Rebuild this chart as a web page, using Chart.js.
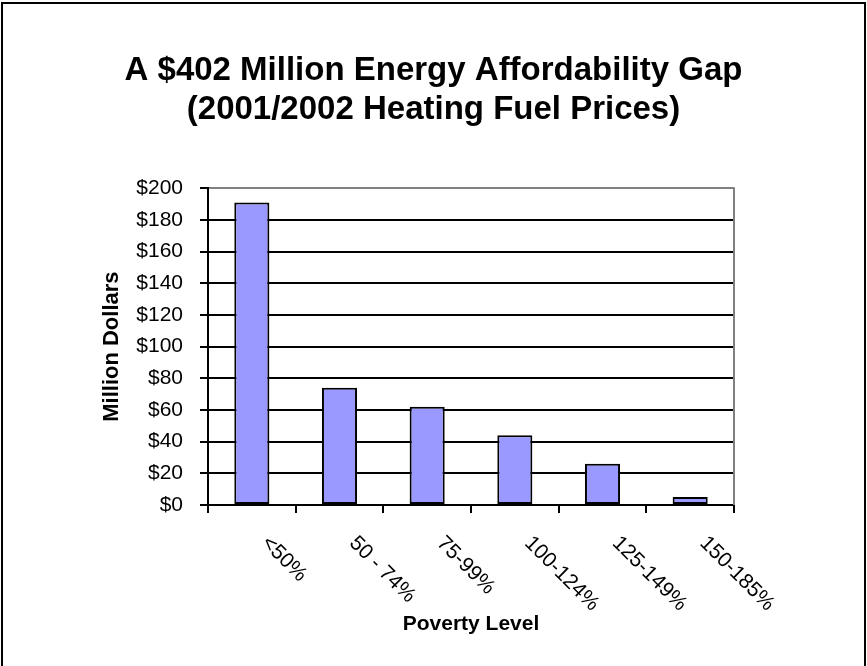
<!DOCTYPE html>
<html>
<head>
<meta charset="utf-8">
<title>Energy Affordability Gap</title>
<script src="https://cdn.jsdelivr.net/npm/chart.js@4/dist/chart.umd.min.js"></script>
<style>
    html, body { margin: 0; padding: 0; background: #fff; }
    #wrap { width: 867px; height: 666px; }
</style>
</head>
<body>
<div id="wrap"><canvas id="gap-chart" width="867" height="666"></canvas></div>
<script>
// values (million dollars)
const povertyLevels = ['<50%', '50 - 74%', '75-99%', '100-124%', '125-149%', '150-185%'];
const gapMillions = [191, 74, 62, 44, 26, 5];
const yTickValues = [0, 20, 40, 60, 80, 100, 120, 140, 160, 180, 200];
const titleLines = ['A $402 Million Energy Affordability Gap', '(2001/2002 Heating Fuel Prices)'];

const FONT = '"Liberation Sans", Arial, sans-serif';

(function() {
    'use strict';

    // outer frame around the whole chart
    const framePlugin = {
        id: 'frame',
        beforeDraw: function(chart) {
            const ctx = chart.ctx;
            ctx.save();
            ctx.fillStyle = '#fff';
            ctx.fillRect(0, 0, chart.width, chart.height);
            ctx.strokeStyle = '#000';
            ctx.lineWidth = 2;
            ctx.strokeRect(2, 3, 863, 700);
            ctx.restore();
        },
        afterDraw: function(chart) {
            // grey plot-area border on the right
            const area = chart.chartArea;
            const ctx = chart.ctx;
            ctx.save();
            ctx.strokeStyle = '#808080';
            ctx.lineWidth = 2;
            ctx.beginPath();
            ctx.moveTo(area.right, area.top - 1);
            ctx.lineTo(area.right, area.bottom);
            ctx.stroke();
            ctx.restore();
        }
    };

    // category labels slanted down to the right, like the original
    const slantLabelsPlugin = {
        id: 'slantLabels',
        afterDraw: function(chart) {
            const xScale = chart.scales.x;
            const ctx = chart.ctx;
            ctx.save();
            ctx.font = '21px ' + FONT;
            ctx.fillStyle = '#000';
            ctx.textAlign = 'left';
            ctx.textBaseline = 'middle';
            povertyLevels.forEach(function(label, i) {
                const x = xScale.getPixelForTick(i);
                ctx.save();
                ctx.translate(x + 13, xScale.top + 35);
                ctx.rotate(Math.PI / 4);
                ctx.fillText(label, 0, 0);
                ctx.restore();
            });
            ctx.restore();
        }
    };

    const context = document.getElementById('gap-chart').getContext('2d');
    const chart = new Chart(context, {
        type: 'bar',
        data: {
            labels: povertyLevels,
            datasets: [{
                label: 'Million Dollars',
                data: gapMillions,
                backgroundColor: '#9999FF',
                borderColor: '#000',
                borderWidth: 2,
                borderSkipped: false,
                barPercentage: 0.4,
                categoryPercentage: 1.0
            }]
        },
        options: {
            responsive: false,
            animation: false,
            layout: {
                padding: 0
            },
            plugins: {
                legend: { display: false },
                tooltip: { enabled: false },
                title: {
                    display: true,
                    text: titleLines,
                    color: '#000',
                    font: { family: FONT, size: 33, weight: 'bold', lineHeight: 1.17 },
                    padding: { top: 52, bottom: 59 }
                }
            },
            scales: {
                x: {
                    afterFit: function(scale) { scale.height = 161; },
                    grid: {
                        display: true,
                        drawOnChartArea: false,
                        drawTicks: true,
                        tickLength: 8,
                        color: '#000',
                        lineWidth: 2
                    },
                    border: { display: true, color: '#000', width: 2 },
                    ticks: { display: false },
                    title: {
                        display: true,
                        text: 'Poverty Level',
                        color: '#000',
                        font: { family: FONT, size: 21, weight: 'bold', lineHeight: 1.2 },
                        padding: { top: 0, bottom: 29 }
                    }
                },
                y: {
                    min: 0,
                    max: 200,
                    afterFit: function(scale) { scale.width = 208; },
                    afterBuildTicks: function(scale) {
                        scale.ticks = yTickValues.map(function(v) { return { value: v }; });
                    },
                    grid: {
                        color: function(ctx) {
                            return ctx.tick && ctx.tick.value === 200 ? '#808080' : '#000';
                        },
                        tickColor: '#000',
                        lineWidth: 2,
                        tickLength: 8
                    },
                    border: { display: true, color: '#000', width: 2 },
                    ticks: {
                        color: '#000',
                        padding: 17,
                        font: { family: FONT, size: 21 },
                        callback: function(value) { return '$' + value; }
                    },
                    title: {
                        display: true,
                        text: 'Million Dollars',
                        color: '#000',
                        font: { family: FONT, size: 22, weight: 'bold', lineHeight: 1.2 },
                        padding: { top: 99, bottom: 0 }
                    }
                },
                // empty strip on the right so the title stays centred on the page
                spacer: {
                    type: 'linear',
                    position: 'right',
                    afterFit: function(scale) { scale.width = 133; },
                    grid: { display: false },
                    border: { display: false },
                    ticks: { display: false }
                }
            }
        },
        plugins: [framePlugin, slantLabelsPlugin]
    });
})();
</script>
</body>
</html>
